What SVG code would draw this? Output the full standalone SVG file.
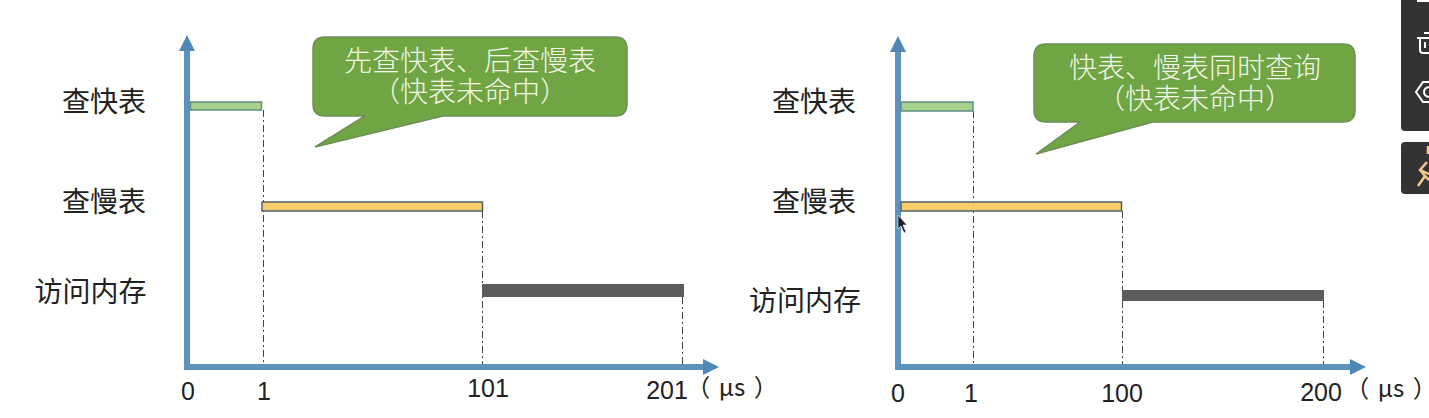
<svg xmlns="http://www.w3.org/2000/svg" width="1429" height="418" viewBox="0 0 1429 418">
<style>
text{font-family:"Noto Sans CJK SC","Liberation Sans",sans-serif;fill:#222;text-anchor:middle}
.lb{font-size:28px}
.nm{font-family:"Liberation Sans","Noto Sans CJK SC",sans-serif;font-size:25px}
.un{font-size:24px;font-feature-settings:"palt";word-spacing:4px}
.co{font-size:28px;fill:#f4f8ea;font-weight:300}
.callout{fill:#70a544;stroke:#6e8f58;stroke-width:1.5}
.axis{fill:none;stroke:#5b93bd;stroke-width:6}
.axis2{fill:#4f88b6}
.dash{stroke:#444;stroke-width:1;stroke-dasharray:7 3 2 3;fill:none}
.g{fill:#a9d18e;stroke:#5f8f86;stroke-width:1.5}
.y{fill:#f7ce6b;stroke:#55606a;stroke-width:1.5}
.d{fill:#5c5c5c}
.panel{fill:#333}
.ic{fill:none;stroke:#fff;stroke-width:2}
</style>
<rect width="1429" height="418" fill="#fff"/>
<g id="connectors">
<path class="dash" d="M263.500 110V367M482.500 211V367M682.500 297V367"/>
<path class="dash" d="M973.500 111V367M1122.500 211V367M1323.500 301V367"/>
<path class="axis" d="M187 50V367H704"/>
<path class="axis2" d="M187 35L195 51H179ZM719 367L703 359V375Z"/>
<path class="axis" d="M898 52V367H1351"/>
<path class="axis2" d="M898 36L906 52H890ZM1366 367L1350 359V375Z"/>
</g>
<g id="bar-left-fast"><rect class="g" x="190.500" y="102" width="71" height="8"/></g>
<g id="bar-left-slow"><rect class="y" x="262" y="202" width="220.500" height="9"/></g>
<g id="bar-left-mem"><rect class="d" x="482" y="284" width="202" height="13"/></g>
<g id="bar-right-fast"><rect class="g" x="901" y="102" width="72" height="9"/></g>
<g id="bar-right-slow"><rect class="y" x="901" y="202" width="220.500" height="9"/></g>
<g id="bar-right-mem"><rect class="d" x="1122" y="290" width="202" height="11"/></g>
<g id="callout-left">
<path class="callout" d="M325 37H615Q627 37 627 49V104Q627 116 615 116H443L315 147L365 116H325Q313 116 313 104V49Q313 37 325 37Z"/>
<text class="co" x="470" y="71">先查快表、后查慢表</text>
<text class="co" x="470" y="102">（快表未命中）</text>
</g>
<g id="callout-right">
<path class="callout" d="M1046 44H1343Q1355 44 1355 56V110Q1355 122 1343 122H1153L1036 154L1080 122H1046Q1034 122 1034 110V56Q1034 44 1046 44Z"/>
<text class="co" x="1195" y="78">快表、慢表同时查询</text>
<text class="co" x="1195" y="109">（快表未命中）</text>
</g>
<g id="labels-left">
<text class="lb" x="104" y="112">查快表</text>
<text class="lb" x="104" y="212">查慢表</text>
<text class="lb" x="90.500" y="302">访问内存</text>
</g>
<g id="labels-right">
<text class="lb" x="814" y="112">查快表</text>
<text class="lb" x="814" y="212">查慢表</text>
<text class="lb" x="805" y="311">访问内存</text>
</g>
<g id="ticks-left">
<text class="nm" x="188" y="400">0</text>
<text class="nm" x="264" y="400">1</text>
<text class="nm" x="488" y="397">101</text>
<text class="nm" x="667" y="399">201</text>
<text class="un" x="732" y="396">（ μs ）</text>
</g>
<g id="ticks-right">
<text class="nm" x="898" y="402">0</text>
<text class="nm" x="971" y="402">1</text>
<text class="nm" x="1122" y="402">100</text>
<text class="nm" x="1321" y="401">200</text>
<text class="un" x="1391" y="397">（ μs ）</text>
</g>
<g id="toolbar">
<path class="panel" d="M1401 0H1429V131H1405Q1401 131 1401 127Z"/>
<path class="panel" d="M1405 142H1429V194H1405Q1401 194 1401 190V146Q1401 142 1405 142Z"/>
<path class="ic" d="M1417 1H1429M1417 38H1429M1420 38V50Q1420 53 1423 53H1429M1424 33H1429M1425 42V48"/>
<path class="ic" d="M1429 82H1423L1416 92L1423 102H1429M1429 87Q1424 88 1424 92Q1424 96 1429 97"/>
<path fill="none" stroke="#f3c987" stroke-width="2.500" d="M1427 162L1420 170L1425 176L1418 186M1428 146V154M1420 170L1429 174M1425 176L1429 180"/>
</g>
<g id="cursor"><path d="M898 215L898 229L901 226L904 233L906 232L903 225L907 225Z" fill="#222" stroke="#fff" stroke-width=".6"/></g>
</svg>
